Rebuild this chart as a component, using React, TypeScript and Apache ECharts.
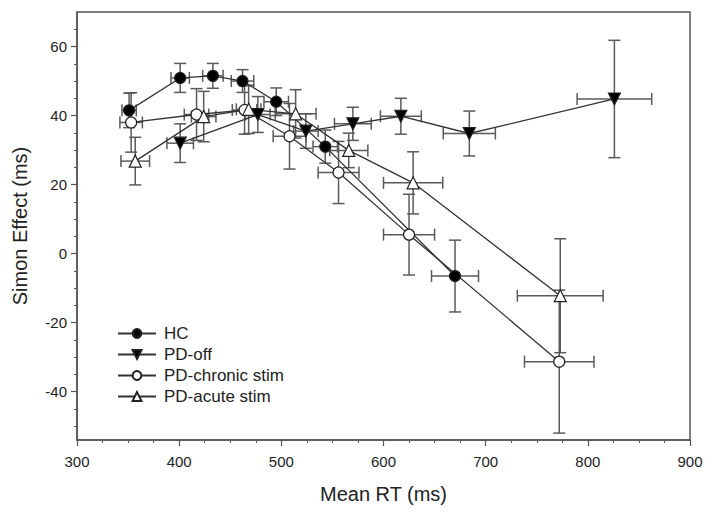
import React, { useEffect, useRef } from "react";
import * as echarts from "echarts";

// Mean RT (ms), Simon effect (ms), horizontal SE, vertical SE
const hcX = [351, 401, 433, 462, 495, 543, 670];
const hcY = [41.5, 50.9, 51.5, 50.0, 44.0, 31.0, -6.5];
const hcXErr = [7, 9, 10, 11, 12, 12, 23];
const hcYErr = [5, 4.2, 3.6, 3.3, 4, 4.8, 10.4];

const offX = [401, 477, 524, 570, 617, 684, 826];
const offY = [32, 40.3, 35.5, 37.6, 39.8, 34.8, 44.8];
const offXErr = [13, 12, 12, 18, 20, 25.5, 36.5];
const offYErr = [5.6, 5.2, 5, 4.8, 5.2, 6.5, 17];

const chronicX = [353, 417, 464, 508, 556, 625, 772];
const chronicY = [38, 40.3, 41.6, 34, 23.5, 5.5, -31.3];
const chronicXErr = [11, 12, 12, 16, 20, 25, 34];
const chronicYErr = [8.6, 7.5, 7, 9.5, 9, 11.7, 20.7];

const acuteX = [357, 424, 468, 514, 566, 629, 773];
const acuteY = [26.8, 39.7, 41.8, 40.5, 29.9, 20.5, -12.2];
const acuteXErr = [14, 12, 12, 20, 18.7, 29, 42];
const acuteYErr = [6.9, 7.3, 7, 7, 5, 9, 16.5];

const yLabelTicks = [-40, -20, 0, 20, 40, 60];
const yMinorTicks = [-50, -45, -35, -30, -25, -15, -10, -5, 5, 10, 15, 25, 30, 35, 45, 50, 55, 65];

const FONT = "Liberation Sans, Arial, sans-serif";
const AXIS_COLOR = "#555";
const ERR_COLOR = "#5a5a5a";

function pts(xs: number[], ys: number[]) {
  return xs.map((x, i) => [x, ys[i]]);
}
function errPts(xs: number[], ys: number[], xe: number[], ye: number[]) {
  return xs.map((x, i) => [x, ys[i], xe[i], ye[i]]);
}

function renderErr(params: any, api: any) {
  const x = api.value(0);
  const y = api.value(1);
  const xe = api.value(2);
  const ye = api.value(3);
  const l = api.coord([x - xe, y]);
  const r = api.coord([x + xe, y]);
  const t = api.coord([x, y + ye]);
  const b = api.coord([x, y - ye]);
  const cap = 6;
  const style = { stroke: ERR_COLOR, lineWidth: 1.5, fill: null };
  const mk = (x1: number, y1: number, x2: number, y2: number) => ({
    type: "line",
    shape: { x1, y1, x2, y2 },
    style,
  });
  return {
    type: "group",
    children: [
      mk(l[0], l[1], r[0], r[1]),
      mk(l[0], l[1] - cap, l[0], l[1] + cap),
      mk(r[0], r[1] - cap, r[0], r[1] + cap),
      mk(t[0], t[1], b[0], b[1]),
      mk(t[0] - cap, t[1], t[0] + cap, t[1]),
      mk(b[0] - cap, b[1], b[0] + cap, b[1]),
    ],
  };
}

export default function App() {
  const ref = useRef<HTMLDivElement>(null);
  useEffect(() => {
    document.body.style.margin = "0";
    const chart = echarts.init(ref.current!, null, { renderer: "svg" });
    const errSeries = (name: string, data: number[][]) => ({
      type: "custom",
      name,
      data,
      encode: { x: 0, y: 1 },
      renderItem: renderErr,
      clip: false,
      z: 1,
      silent: true,
    });
    const lineSeries = (name: string, data: number[][], symbol: string, rotate: number, fill: string) => ({
      type: "line",
      name,
      data,
      symbol,
      symbolSize: symbol === "circle" ? 11 : 12,
      symbolRotate: rotate,
      showSymbol: true,
      lineStyle: { color: "#333", width: 1.3 },
      itemStyle: { color: fill, borderColor: "#222", borderWidth: 1.2 },
      z: 5,
    });
    chart.setOption({
      animation: false,
      backgroundColor: "#fff",
      grid: {
        left: 77,
        right: 23,
        top: 12,
        bottom: 74,
        show: true,
        borderColor: AXIS_COLOR,
        borderWidth: 1.5,
      },
      legend: {
        orient: "vertical",
        left: 112,
        top: 320,
        itemWidth: 38,
        itemHeight: 11,
        itemGap: 4,
        data: ["HC", "PD-off", "PD-chronic stim", "PD-acute stim"],
        textStyle: { fontSize: 17, color: "#222", fontFamily: FONT, padding: [0, 0, 0, 3] },
      },
      xAxis: {
        type: "value",
        min: 300,
        max: 900,
        interval: 100,
        name: "Mean RT (ms)",
        nameLocation: "middle",
        nameGap: 44,
        nameTextStyle: { fontSize: 20, color: "#222", fontFamily: FONT },
        axisLine: { onZero: false, lineStyle: { color: AXIS_COLOR, width: 1.5 } },
        axisTick: { length: 6, lineStyle: { color: AXIS_COLOR, width: 1.2 } },
        minorTick: { show: true, splitNumber: 4, length: 3, lineStyle: { color: AXIS_COLOR, width: 1 } },
        axisLabel: { fontSize: 15, color: "#222", fontFamily: FONT, margin: 14 },
        splitLine: { show: false },
      },
      yAxis: [
        {
          type: "value",
          min: -54,
          max: 70,
          name: "Simon Effect (ms)",
          nameLocation: "middle",
          nameGap: 47,
          nameTextStyle: { fontSize: 20, color: "#222", fontFamily: FONT },
          axisLine: { onZero: false, lineStyle: { color: AXIS_COLOR, width: 1.5 } },
          axisTick: { length: 6, customValues: yLabelTicks, lineStyle: { color: AXIS_COLOR, width: 1.2 } },
          axisLabel: { fontSize: 15, color: "#222", fontFamily: FONT, margin: 10, customValues: yLabelTicks },
          splitLine: { show: false },
        },
        {
          type: "value",
          min: -54,
          max: 70,
          position: "left",
          axisLine: { show: false, onZero: false },
          axisTick: { length: 3, customValues: yMinorTicks, lineStyle: { color: AXIS_COLOR, width: 1 } },
          axisLabel: { show: false },
          splitLine: { show: false },
        },
      ],
      series: [
        errSeries("HC-err", errPts(hcX, hcY, hcXErr, hcYErr)),
        errSeries("PD-off-err", errPts(offX, offY, offXErr, offYErr)),
        errSeries("PD-chronic-err", errPts(chronicX, chronicY, chronicXErr, chronicYErr)),
        errSeries("PD-acute-err", errPts(acuteX, acuteY, acuteXErr, acuteYErr)),
        lineSeries("HC", pts(hcX, hcY), "circle", 0, "#000"),
        lineSeries("PD-off", pts(offX, offY), "triangle", 180, "#000"),
        lineSeries("PD-chronic stim", pts(chronicX, chronicY), "circle", 0, "#fff"),
        lineSeries("PD-acute stim", pts(acuteX, acuteY), "triangle", 0, "#fff"),
      ],
    });
    return () => chart.dispose();
  }, []);
  return <div ref={ref} style={{ width: 713, height: 514 }} />;
}
